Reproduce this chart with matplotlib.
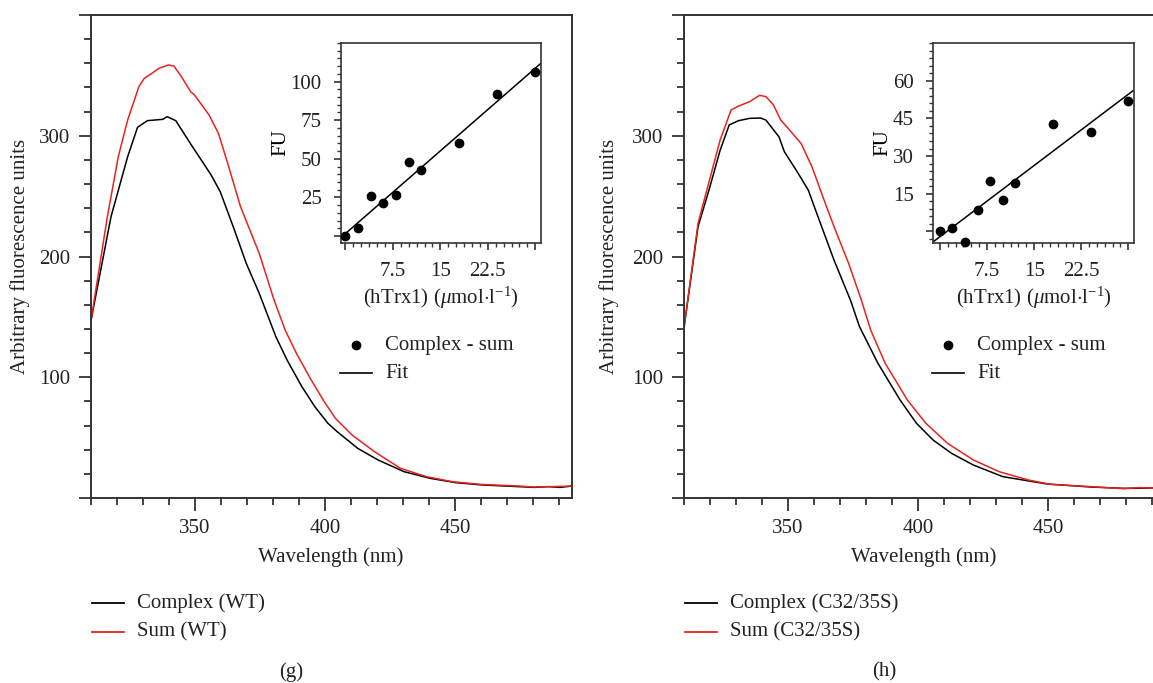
import matplotlib
matplotlib.use("Agg")
import matplotlib.pyplot as plt
from matplotlib.ticker import MultipleLocator, FixedLocator, FixedFormatter
from matplotlib.lines import Line2D

# ---- data ----
WT_CPLX_X = [310, 317.7, 324.1, 327.9, 331.7, 337.6, 339.3, 342.6, 349, 353.3, 356.2, 359.7, 364.7,
             369.7, 374.7, 381.1, 385.4, 391.1, 396.1, 401.1, 404.7, 412.6, 420.4, 430.4, 440.4,
             450.4, 460.4, 474.7, 480.4, 486, 490.4, 495]
WT_CPLX_Y = [147, 233, 282.7, 307, 312.5, 313.6, 315.8, 312.5, 291, 277, 267.5, 253.7, 224.7,
             194.4, 169.5, 133.6, 114.3, 92.2, 75.6, 61.9, 54.9, 41.1, 31.5, 21.8, 16.3,
             12.7, 10.8, 9.4, 8.8, 9.4, 8.8, 9.9]
WT_SUM_X = [310, 316.3, 320.5, 324.1, 328.4, 330.5, 333.4, 336.2, 339.8, 341.9, 344.8, 348.3, 349.7,
            352.6, 355.4, 359, 362.6, 367.5, 374.7, 380.4, 384.7, 389, 394.7, 399.7, 404, 410.4,
            419, 429, 439, 449, 460.4, 474.7, 480, 487, 495]
WT_SUM_Y = [147, 233, 282.7, 313, 340.6, 347.6, 351.7, 355.9, 358.6, 357.7, 348.9, 336.5, 334,
            325.5, 317.2, 302, 277, 241.3, 202.6, 164, 139, 119.8, 97.7, 79.8, 66, 52.2,
            38.4, 24.6, 17.7, 13.5, 11.2, 9.9, 9.1, 9.4, 9.9]
MU_CPLX_X = [310, 315.4, 319.6, 323.9, 327.4, 331, 335.2, 339.4, 341.5, 346.5, 348.6, 353.5, 357.8,
             362, 367.7, 374, 377.5, 384.6, 393.1, 399.4, 405.8, 412.9, 421.3, 432.6, 449.6,
             466.5, 479.2, 490.3, 495]
MU_CPLX_Y = [141, 224.7, 255, 288, 309, 312.5, 314.4, 314.7, 313, 299.2, 286.8, 270.3, 255,
             230.2, 197, 164, 141.9, 111.5, 81.2, 61.9, 48, 37, 27.3, 17.7, 11.6,
             9.1, 8, 8.3, 8.3]
MU_SUM_X = [310, 315.4, 323.9, 328.1, 331, 335.2, 339.1, 341.5, 344.4, 347.2, 350, 355, 359.2,
            363.4, 367.7, 373.3, 378.2, 381.8, 387.4, 395.9, 403, 411.4, 421.3, 431.2, 442.5,
            451, 466.5, 479, 484.9, 490, 495]
MU_SUM_Y = [141, 227.5, 296.5, 321.3, 324.6, 328.2, 333.5, 332.4, 325.5, 313, 306.2, 293.7, 274.4,
            249.5, 224.7, 194.4, 164, 139, 111.5, 81.2, 61.9, 45.2, 31.5, 21.8, 14.9,
            11.3, 9.4, 7.7, 8.6, 8.3, 8.3]

HTRX = [0, 2, 4, 6, 8, 10, 12, 18, 24, 30]
WT_FU = [0, 5.4, 26.2, 21.2, 26.4, 47.8, 42.9, 60.2, 92.2, 106.3]
MU_FU = [0, 1.5, -4.3, 8.5, 20.2, 12.6, 19.4, 42.9, 39.4, 51.9]
WT_FIT = (3.57, 1.6)     # slope, intercept
MU_FIT = (1.89, -2.1)

INK = "#222222"
AXC = "#333333"
RED = "#e8231f"

plt.rcParams.update({"font.family": "Liberation Serif", "font.size": 15,
                     "mathtext.fontset": "custom", "mathtext.rm": "Liberation Serif",
                     "mathtext.it": "Liberation Serif:italic",
                     "text.color": INK, "axes.edgecolor": AXC, "xtick.color": AXC,
                     "ytick.color": AXC, "xtick.labelcolor": INK, "ytick.labelcolor": INK})

W, H = 1153, 683
fig = plt.figure(figsize=(W / 100, H / 100), dpi=100)


def rect(x0, y0, x1, y1):
    return [x0 / W, 1 - y1 / H, (x1 - x0) / W, (y1 - y0) / H]


def fx(x, y):
    return x / W, 1 - y / H


def main_panel(x0, cx, cy, sx, sy, tag, letter, ylx):
    ax = fig.add_axes(rect(x0, 15, x0 + 481, 498))
    ax.plot(cx, cy, color="black", lw=1.1)
    ax.plot(sx, sy, color=RED, lw=1.1)
    ax.set_xlim(310, 495)
    ax.set_ylim(0, 400)
    ax.xaxis.set_major_locator(FixedLocator([350, 400, 450]))
    ax.xaxis.set_minor_locator(MultipleLocator(10))
    ax.yaxis.set_major_locator(FixedLocator([0, 100, 200, 300, 400]))
    ax.yaxis.set_major_formatter(FixedFormatter(["", "100", "200", "300", ""]))
    ax.yaxis.set_minor_locator(MultipleLocator(20))
    ax.tick_params(which="major", length=9, width=1.3, direction="out", pad=6)
    ax.tick_params(which="minor", length=5, width=1.3, direction="out")
    for s in ax.spines.values():
        s.set_linewidth(1.4)
    fig.text(*fx(x0 + 240, 557), "Wavelength (nm)", ha="center", va="center")
    fig.text(*fx(ylx, 256), "Arbitrary fluorescence units", rotation=90,
             ha="center", va="center")
    # legend below
    for y, col, lab in [(603, "black", f"Complex ({tag})"), (632, RED, f"Sum ({tag})")]:
        fig.add_artist(Line2D([(x0 + 1) / W, (x0 + 33) / W], [1 - y / H] * 2, color=col, lw=1.3))
        fig.text(*fx(x0 + 46, y), lab, ha="left", va="center")
    fig.text(*fx(x0 + 200, 672), letter, ha="center", va="center")
    return ax


def inset(x0, x1, fu, fit, ylim, ymaj, ymin, xlim):
    ax = fig.add_axes(rect(x0, 43, x1, 243))
    ax.plot(HTRX, fu, "o", color="black", ms=6, clip_on=False, zorder=3)
    ax.plot(xlim, [fit[0] * x + fit[1] for x in xlim], color="black", lw=1.1)
    ax.set_xlim(*xlim)
    ax.set_ylim(*ylim)
    ax.xaxis.set_major_locator(FixedLocator([0, 7.5, 15, 22.5, 30]))
    ax.xaxis.set_major_formatter(FixedFormatter(["", "7.5", "15", "22.5", ""]))
    ax.xaxis.set_minor_locator(MultipleLocator(1.25))
    ticks = [ymaj * k for k in range(5)]
    ax.yaxis.set_major_locator(FixedLocator(ticks))
    ax.yaxis.set_major_formatter(FixedFormatter([""] + [f"{t:g}" for t in ticks[1:]]))
    ax.yaxis.set_minor_locator(MultipleLocator(ymin))
    ax.tick_params(which="major", length=5, width=1.2, direction="out", pad=9)
    ax.tick_params(which="minor", length=3, width=1.0, direction="out")
    for s in ax.spines.values():
        s.set_linewidth(1.2)
    ax.set_ylabel("FU", labelpad=0)
    cx = (x0 + x1) / 2
    fig.text(*fx(cx, 298), r"(hTrx1) ($\mu$mol$\cdot$l$^{-1}$)", ha="center", va="center")
    fig.add_artist(Line2D([(x0 + 15) / W], [1 - 345 / H], marker="o", ms=6, color="black"))
    fig.text(*fx(x0 + 44, 345), "Complex - sum", ha="left", va="center")
    fig.add_artist(Line2D([(x0 - 1) / W, (x0 + 31) / W], [1 - 373 / H] * 2, color="black", lw=1.2))
    fig.text(*fx(x0 + 44, 373), "Fit", ha="left", va="center")
    return ax


main_panel(91, WT_CPLX_X, WT_CPLX_Y, WT_SUM_X, WT_SUM_Y, "WT", "(g)", 20)
main_panel(684, MU_CPLX_X, MU_CPLX_Y, MU_SUM_X, MU_SUM_Y, "C32/35S", "(h)", 609)
inset(341, 541, WT_FU, WT_FIT, (-4.5, 125), 25, 5, (-0.7, 30.9))
inset(933, 1134, MU_FU, MU_FIT, (-4.6, 75), 15, 3, (-1.1, 30.9))

fig.savefig("out.png", dpi=100)
